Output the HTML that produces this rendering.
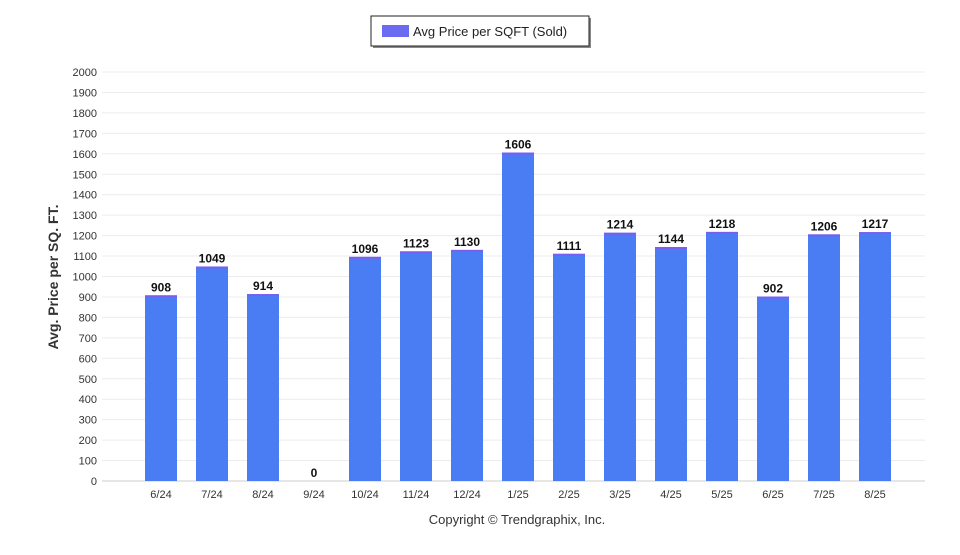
<!DOCTYPE html>
<html><head><meta charset="utf-8"><style>
body{margin:0;background:#fff;font-family:"Liberation Sans",sans-serif}
svg text{font-family:"Liberation Sans",sans-serif}
</style></head><body>
<svg width="960" height="550" xmlns="http://www.w3.org/2000/svg">
<g id="grid"></g>
<g id="bars"></g>
<g id="xlab"></g>
<g id="ylab"></g>
<text transform="translate(58,277) rotate(-90)" text-anchor="middle" font-size="14" font-weight="bold" fill="#333">Avg. Price per SQ. FT.</text>
<text x="517" y="524" text-anchor="middle" font-size="13" fill="#333">Copyright © Trendgraphix, Inc.</text>
<g>
<rect x="373" y="18" width="218" height="30" fill="#888"/>
<rect x="371" y="16" width="218" height="30" fill="#fff" stroke="#222" stroke-width="1"/>
<rect x="382" y="25" width="27" height="12" fill="#6b6bf2"/>
<text x="413" y="36" font-size="13" fill="#222">Avg Price per SQFT (Sold)</text>
</g>
</svg>
<script>
const categories=["6/24","7/24","8/24","9/24","10/24","11/24","12/24","1/25","2/25","3/25","4/25","5/25","6/25","7/25","8/25"];
const values=[908,1049,914,0,1096,1123,1130,1606,1111,1214,1144,1218,902,1206,1217];
const yTicks=[0,100,200,300,400,500,600,700,800,900,1000,1100,1200,1300,1400,1500,1600,1700,1800,1900,2000];
const NS="http://www.w3.org/2000/svg";
const y0=481,y1=72,yMax=2000,x0=110,x1=925;
const y=v=>y0-(v/yMax)*(y0-y1);
const step=51,first=161,bw=32;
const x=i=>first+step*i;
function mk(t,a,p){const e=document.createElementNS(NS,t);for(const k in a)e.setAttribute(k,a[k]);p.appendChild(e);return e;}
const g=document.getElementById('grid'),yl=document.getElementById('ylab'),b=document.getElementById('bars'),xl=document.getElementById('xlab');
yTicks.forEach(t=>{
 const l=mk('line',{x1:102,x2:x1,y1:y(t),y2:y(t),stroke:t===0?'#ccc':'#ececec','stroke-width':1},g);
 
 
 const tx=mk('text',{x:97,y:y(t)+4,'text-anchor':'end','font-size':11,fill:'#333'},yl);
 tx.textContent=t;
 
 
});
categories.forEach((c,i)=>{
 const v=values[i];
 if(v>0){
  const r=mk('rect',{x:x(i)-bw/2,y:y(v),width:bw,height:y0-y(v),fill:'#4a7df4'},b);
  
  
  const cap=mk('rect',{x:x(i)-bw/2,y:y(v),width:bw,height:2,fill:'#7a5ef0'},b);
  
  
 }
 const vl=mk('text',{x:x(i),y:y(v)-4,'text-anchor':'middle','font-size':12,'font-weight':'bold',fill:'#111'},b);
 vl.textContent=v;
 
 
 const tl=mk('text',{x:x(i),y:498,'text-anchor':'middle','font-size':11,fill:'#333'},xl);
 tl.textContent=c;
 
 
});
</script>
</body></html>
